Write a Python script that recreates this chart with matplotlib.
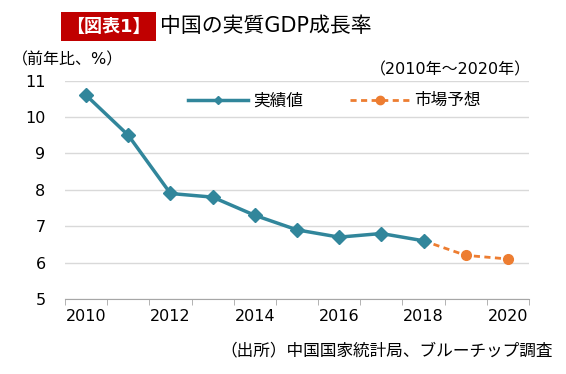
import matplotlib
matplotlib.use("Agg")
import matplotlib.pyplot as plt
from matplotlib.ticker import FixedLocator
from matplotlib.lines import Line2D

plt.rcParams['font.family'] = ['DejaVu Sans', 'Noto Sans CJK JP']

years = [2010, 2011, 2012, 2013, 2014, 2015, 2016, 2017, 2018, 2019, 2020]
actual = [10.6, 9.5, 7.9, 7.8, 7.3, 6.9, 6.7, 6.8, 6.6]
forecast_years = [2018, 2019, 2020]
forecast = [6.6, 6.2, 6.1]
tick_labels = ['2010', '2012', '2014', '2016', '2018', '2020']

teal = '#31869b'
orange = '#ed7d31'

fig = plt.figure(figsize=(5.66, 3.74), dpi=100)
ax = fig.add_axes([65 / 566, 1 - 299 / 374, (529 - 65) / 566, (299 - 80.7) / 374])

xa = [years.index(y) for y in years[:len(actual)]]
xf = [years.index(y) for y in forecast_years]
ax.plot(xf, forecast, color=orange, lw=2, ls=(0, (2.2, 1.6)), marker='o', ms=7, zorder=2)
ax.plot(xa, actual, color=teal, lw=2.5, marker='D', ms=7, zorder=3)

ax.set_xlim(-0.5, len(years) - 0.5)
ax.set_ylim(5, 11)
ax.set_yticks(range(5, 12))
ax.set_xticks([years.index(int(t)) for t in tick_labels])
ax.set_xticklabels(tick_labels)
ax.xaxis.set_minor_locator(FixedLocator([i - 0.5 for i in range(len(years) + 1)]))
ax.tick_params(axis='x', which='major', length=0, pad=7, labelsize=11.5)
ax.tick_params(axis='x', which='minor', length=4, color='#a6a6a6')
ax.tick_params(axis='y', length=0, pad=14, labelsize=11.5)
ax.grid(axis='y', color='#d9d9d9', lw=1)
ax.set_axisbelow(True)
for s in ['top', 'right', 'left']:
    ax.spines[s].set_visible(False)
ax.spines['bottom'].set_color('#a6a6a6')

handles = [Line2D([], [], color=teal, lw=2.5, marker='D', ms=4),
           Line2D([], [], color=orange, lw=2, ls=(0, (2.2, 1.6)), marker='o', ms=6)]
ax.legend(handles, ['実績値', '市場予想'], loc='center', bbox_to_anchor=(0.581, 0.91), ncol=2,
          frameon=False, fontsize=12, handlelength=3.6, handletextpad=0.3, columnspacing=2.8)

fig.text(66 / 566, 1 - 26.5 / 374, '【図表1】', color='white', fontsize=13, fontweight='bold',
         va='center', ha='left',
         bbox=dict(boxstyle='square,pad=0.28', fc='#c00000', ec='none'))
fig.text(160 / 566, 1 - 26 / 374, '中国の実質GDP成長率', fontsize=15, va='center', ha='left')
fig.text(12 / 566, 1 - 60 / 374, '（前年比、%）', fontsize=11.5, va='center', ha='left')
fig.text(531 / 566, 1 - 70 / 374, '（2010年～2020年）', fontsize=11.5, va='center', ha='right')
fig.text(553 / 566, 1 - 350 / 374, '（出所）中国国家統計局、ブルーチップ調査', fontsize=12,
         va='center', ha='right')

fig.savefig('out.png', dpi=100, facecolor='white')
